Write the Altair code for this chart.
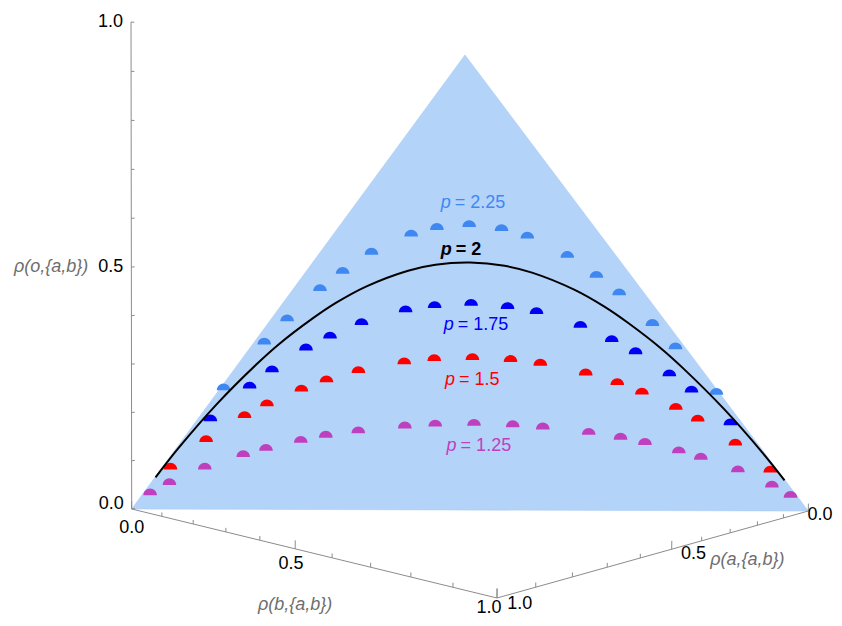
import altair as alt
import pandas as pd

# ---------------- data ----------------
# points on the surface rho(a)+rho(b)+rho(o)=1 ; lists give rho(a,{a,b}) and rho(b,{a,b})
p125_a = [0.963, 0.927, 0.863, 0.796, 0.757, 0.698, 0.656, 0.603, 0.528, 0.480, 0.420,
          0.362, 0.318, 0.253, 0.209, 0.177, 0.134, 0.107, 0.064, 0.029, 0.012]
p125_b = [0.012, 0.029, 0.064, 0.107, 0.134, 0.177, 0.209, 0.253, 0.318, 0.362, 0.420,
          0.480, 0.528, 0.603, 0.656, 0.698, 0.757, 0.796, 0.863, 0.927, 0.963]
p150_a = [0.913, 0.838, 0.760, 0.716, 0.650, 0.603, 0.545, 0.465, 0.415, 0.354,
          0.296, 0.253, 0.192, 0.153, 0.125, 0.089, 0.068, 0.037, 0.014]
p150_b = [0.014, 0.037, 0.068, 0.089, 0.125, 0.153, 0.192, 0.253, 0.296, 0.354,
          0.415, 0.465, 0.545, 0.603, 0.650, 0.716, 0.760, 0.838, 0.913]
p175_a = [0.814, 0.726, 0.677, 0.604, 0.555, 0.492, 0.409, 0.358, 0.297,
          0.242, 0.201, 0.146, 0.112, 0.088, 0.060, 0.044, 0.021]
p175_b = [0.021, 0.044, 0.060, 0.088, 0.112, 0.146, 0.201, 0.242, 0.297,
          0.358, 0.409, 0.492, 0.555, 0.604, 0.677, 0.726, 0.814]
p225_a = [0.767, 0.663, 0.605, 0.523, 0.469, 0.402, 0.317, 0.267, 0.210,
          0.161, 0.127, 0.084, 0.060, 0.044, 0.027, 0.018, 0.007]
p225_b = [0.007, 0.018, 0.027, 0.044, 0.060, 0.084, 0.127, 0.161, 0.210,
          0.267, 0.317, 0.402, 0.469, 0.523, 0.605, 0.663, 0.767]
# the p = 2 curve (drawn as a line)
p2_a = [0.941, 0.885, 0.790, 0.694, 0.640, 0.563, 0.510, 0.445, 0.360, 0.309, 0.250,
        0.197, 0.160, 0.111, 0.082, 0.063, 0.040, 0.028, 0.012, 0.003, 0.001]
p2_b = [0.001, 0.003, 0.012, 0.028, 0.040, 0.063, 0.082, 0.111, 0.160, 0.197, 0.250,
        0.309, 0.360, 0.445, 0.510, 0.563, 0.640, 0.694, 0.790, 0.885, 0.941]

series_names = ["2.25", "1.75", "1.5", "1.25"]
series_colors = ["#3F88F2", "#0000F5", "#FF0000", "#BF40BF"]

label_p = ["2.25", "2", "1.75", "1.5", "1.25"]
label_o = [0.623, 0.517, 0.354, 0.241, 0.111]       # height of each label on the surface
label_colors = ["#3F88F2", "#000000", "#0000F5", "#FF0000", "#BF40BF"]

tick_vals = [0.0, 0.1, 0.2, 0.3, 0.4, 0.5, 0.6, 0.7, 0.8, 0.9, 1.0]
major_vals = [0.0, 0.5, 1.0]
major_text = ["0.0", "0.5", "1.0"]

# ---------------- 3D view (perspective camera matrix) ----------------
CU = (-536.8, 334.5, -2.8, 699.3)
CV = (-55.6, -30.1, -601.3, 683.7)
CW = (-0.279, -0.234, -0.0151, 1.513)


def proj(a, b, o):
    w = CW[0] * a + CW[1] * b + CW[2] * o + CW[3]
    u = (CU[0] * a + CU[1] * b + CU[2] * o + CU[3]) / w
    v = (CV[0] * a + CV[1] * b + CV[2] * o + CV[3]) / w
    return u, v


W, H = 826, 610
XS = alt.Scale(domain=[8, 8 + W], nice=False, zero=False)
YS = alt.Scale(domain=[8, 8 + H], nice=False, zero=False, reverse=True)
X = alt.X("x:Q", scale=XS, axis=None)
Y = alt.Y("y:Q", scale=YS, axis=None)
FONT = "Liberation Sans"
FS = 18

# surface triangle
tri = []
for i, (a, b, o) in enumerate([(1, 0, 0), (0, 0, 1), (0, 1, 0)]):
    u, v = proj(a, b, o)
    tri.append({"i": i, "x": u, "y": v})
surface = alt.Chart(pd.DataFrame(tri)).mark_line(
    interpolate="linear-closed", fill="#B4D3F9", stroke="#A9CBF5", strokeWidth=0.6
).encode(x=X, y=Y, order="i:Q")

# axes lines and ticks
segs = []
def seg(p1, p2):
    u1, v1 = proj(*p1)
    u2, v2 = proj(*p2)
    segs.append({"x": u1, "y": v1, "x2": u2, "y2": v2})

seg((1, 0, 0), (1, 0, 1))
seg((1, 0, 0), (1, 1, 0))
seg((0, 1, 0), (1, 1, 0))
for t in tick_vals:
    L = 0.016 if t in major_vals else 0.008
    seg((1, 0, t), (1 - 0.008, 0, t))
    seg((1, t, 0), (1, t, L))
    seg((t, 1, 0), (t, 1, L))
axes = alt.Chart(pd.DataFrame(segs)).mark_rule(color="#8c8c8c", strokeWidth=1).encode(
    x=X, y=Y, x2="x2:Q", y2="y2:Q")

# tick labels (b-axis labels sit below the axis, a-axis labels to its right)
tl_o, tl_b, tl_a = [], [], []
for val, txt in zip(major_vals, major_text):
    u, v = proj(1, 0, val + (0.01 if val == 0 else 0.0))
    tl_o.append({"x": u, "y": v, "t": txt})
    u, v = proj(1 + 0.02 * val, val, -0.04 + 0.027 * val)
    tl_b.append({"x": u, "y": v, "t": txt})
    u, v = proj(val, 1.05, 0)
    tl_a.append({"x": min(u, 8 + W - 14), "y": v, "t": txt})
lab_o = alt.Chart(pd.DataFrame(tl_o)).mark_text(
    align="right", baseline="middle", dx=-8, font=FONT, fontSize=FS, color="black"
).encode(x=X, y=Y, text="t:N")
lab_b = alt.Chart(pd.DataFrame(tl_b)).mark_text(
    align="center", baseline="middle", font=FONT, fontSize=FS, color="black"
).encode(x=X, y=Y, text="t:N")
lab_a = alt.Chart(pd.DataFrame(tl_a)).mark_text(
    align="center", baseline="middle", font=FONT, fontSize=FS, color="black"
).encode(x=X, y=Y, text="t:N")

# axis titles
tt = []
u, v = proj(1, 0, 0.5)
tt.append({"x": u - 43, "y": v, "t": "ρ(o,{a,b})", "al": "right"})
u, v = proj(1, 0.5, -0.105)
tt.append({"x": u, "y": v, "t": "ρ(b,{a,b})", "al": "center"})
u, v = proj(0.47, 1.15, 0)
tt.append({"x": u, "y": v, "t": "ρ(a,{a,b})", "al": "center"})
ttdf = pd.DataFrame(tt)
title_r = alt.Chart(ttdf[ttdf.al == "right"]).mark_text(
    align="right", baseline="middle", font=FONT, fontSize=FS, fontStyle="italic", color="#6e6e6e"
).encode(x=X, y=Y, text="t:N")
title_c = alt.Chart(ttdf[ttdf.al == "center"]).mark_text(
    align="center", baseline="middle", font=FONT, fontSize=FS, fontStyle="italic", color="#6e6e6e"
).encode(x=X, y=Y, text="t:N")

# points
rows = []
for name, A, B in zip(series_names, [p225_a, p175_a, p150_a, p125_a],
                      [p225_b, p175_b, p150_b, p125_b]):
    for a, b in zip(A, B):
        u, v = proj(a, b, 1 - a - b)
        rows.append({"x": u, "y": v, "p": name})
HALF = "M -1 0 A 1 1 0 0 1 1 0 Z"
points = alt.Chart(pd.DataFrame(rows)).mark_point(
    shape=HALF, filled=True, size=185, opacity=1, strokeWidth=0
).encode(
    x=X, y=Y,
    color=alt.Color("p:N", scale=alt.Scale(domain=series_names, range=series_colors), legend=None),
)

# p = 2 curve
lrows = []
for i, (a, b) in enumerate(zip(p2_a, p2_b)):
    u, v = proj(a, b, 1 - a - b)
    lrows.append({"i": i, "x": u, "y": v})
curve = alt.Chart(pd.DataFrame(lrows)).mark_line(
    color="black", strokeWidth=2, interpolate="catmull-rom"
).encode(x=X, y=Y, order="i:Q")

# curve labels
lab_rows = []
for pv, o, c in zip(label_p, label_o, label_colors):
    a = (1 - o) / 2
    u, v = proj(a, a, o)
    lab_rows.append({"x": u, "y": v, "rest": "= " + pv, "c": c, "bold": pv == "2"})
ldf = pd.DataFrame(lab_rows)
lcol = alt.Color("c:N", scale=None)
lab_p_norm = alt.Chart(ldf[~ldf.bold]).mark_text(
    align="right", baseline="alphabetic", dx=-18, font=FONT, fontSize=FS, fontStyle="italic"
).encode(x=X, y=Y, text=alt.value("p"), color=lcol)
lab_r_norm = alt.Chart(ldf[~ldf.bold]).mark_text(
    align="left", baseline="alphabetic", dx=-14, font=FONT, fontSize=FS
).encode(x=X, y=Y, text="rest:N", color=lcol)
lab_p_bold = alt.Chart(ldf[ldf.bold]).mark_text(
    align="right", baseline="alphabetic", dx=-18, font=FONT, fontSize=FS, fontStyle="italic",
    fontWeight="bold"
).encode(x=X, y=Y, text=alt.value("p"), color=lcol)
lab_r_bold = alt.Chart(ldf[ldf.bold]).mark_text(
    align="left", baseline="alphabetic", dx=-14, font=FONT, fontSize=FS, fontWeight="bold"
).encode(x=X, y=Y, text="rest:N", color=lcol)

chart = alt.layer(
    surface, axes, points, curve, lab_o, lab_b, lab_a, title_r, title_c,
    lab_p_norm, lab_r_norm, lab_p_bold, lab_r_bold
).properties(
    width=W, height=H, padding=0, background="white",
    autosize=alt.AutoSizeParams(type="none"),
).configure_view(stroke="transparent", strokeWidth=0)

chart.save("out.html", embed_options={"renderer": "svg", "actions": False})
